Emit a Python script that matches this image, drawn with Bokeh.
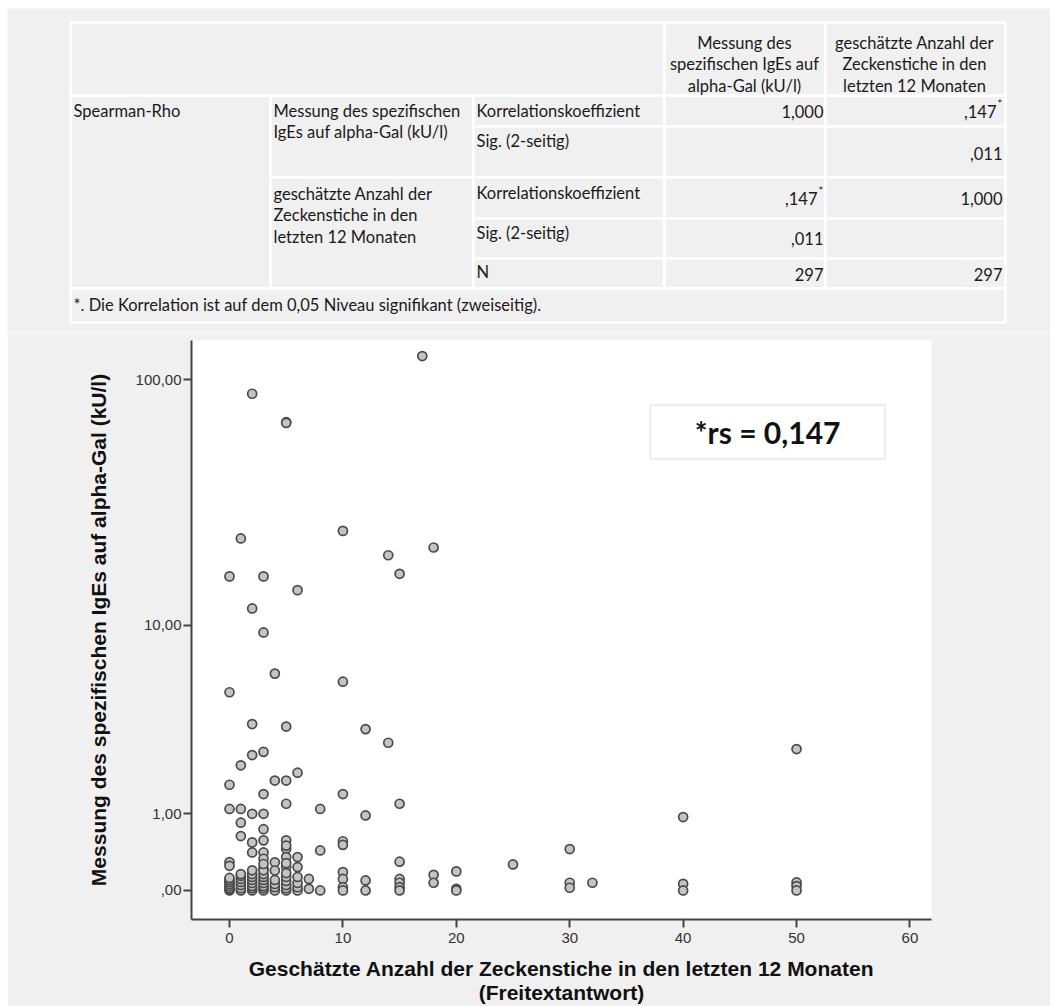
import numpy as np
from bokeh.plotting import figure
from bokeh.models import (Range1d, FixedTicker, CustomJSTickFormatter, BoxAnnotation,
                          Label, Spacer, ColumnDataSource)
from bokeh.layouts import column, row
from bokeh.core.properties import value
from bokeh.embed import file_html
from bokeh.resources import INLINE

# ---------------- data ----------------
# estimated number of tick bites (x) and alpha-Gal sIgE in kU/l (y)
stiche = [
    17, 2, 5, 5, 10, 1, 18, 14, 0, 3, 15, 6, 2, 3,
    4, 0, 10, 2, 5, 12, 14, 2, 3, 1, 0, 4, 5, 6, 3, 10, 5, 15, 0, 1, 8, 2, 3, 12,
    1, 3, 1, 2, 2, 3, 5, 5, 3, 3, 6, 5, 8, 10, 10, 0, 0, 4, 3, 4, 5, 6, 15, 10,
    20, 18, 18, 12, 12, 15, 15, 15, 15, 20, 20, 10, 10, 10, 8, 7, 7,
    25, 30, 30, 30, 32, 40, 40, 40, 50, 50, 50, 50,
    0, 0, 0, 0, 0, 0, 0, 0,
    1, 1, 1, 1, 1, 1, 1,
    2, 2, 2, 2, 2, 2, 2, 2,
    3, 3, 3, 3, 3, 3, 3, 3, 3,
    4, 4, 4, 4,
    5, 5, 5, 5, 5, 5, 5, 5,
    6, 6, 6, 6,
]
ige = [
    124.3, 88.1, 67.9, 67.5, 24.8, 23.1, 21.2, 19.7, 16.1, 16.1, 16.5, 14.1, 11.8, 9.3,
    6.1, 5.0, 5.6, 3.5, 3.4, 3.3, 2.8, 2.4, 2.5, 2.1, 1.6, 1.7, 1.7, 1.9, 1.39, 1.39, 1.19, 1.19, 1.09, 1.09, 1.09, 1.0, 1.0, 0.97,
    0.845, 0.74, 0.635, 0.544, 0.41, 0.573, 0.573, 0.459, 0.41, 0.332, 0.352, 0.352, 0.436, 0.56, 0.51, 0.292, 0.25, 0.29, 0.217, 0.198, 0.235, 0.235, 0.297, 0.18,
    0.188, 0.152, 0.072, 0.095, 0.0, 0.11, 0.072, 0.03, 0.0, 0.015, 0.0, 0.11, 0.03, 0.0, 0.0, 0.11, 0.015,
    0.265, 0.454, 0.072, 0.025, 0.072, 0.942, 0.062, 0.0, 2.59, 0.075, 0.04, 0.0,
    0.0, 0.01, 0.02, 0.04, 0.06, 0.08, 0.10, 0.12,
    0.0, 0.02, 0.05, 0.08, 0.11, 0.14, 0.16,
    0.0, 0.02, 0.04, 0.07, 0.10, 0.13, 0.16, 0.20,
    0.0, 0.02, 0.04, 0.07, 0.10, 0.13, 0.16, 0.20, 0.27,
    0.0, 0.03, 0.06, 0.10,
    0.0, 0.02, 0.05, 0.09, 0.13, 0.17, 0.28, 0.50,
    0.0, 0.03, 0.07, 0.13,
]
x_ticks = [0, 10, 20, 30, 40, 50, 60]
y_ticks = [0, 1, 10, 100]
rs_text = "*rs = 0,147"

# table content
head_col4 = "Messung des\nspezifischen IgEs auf\nalpha-Gal (kU/l)"
head_col5 = "geschätzte Anzahl der\nZeckenstiche in den\nletzten 12 Monaten"
group_label = "Spearman-Rho"
var1_label = "Messung des spezifischen\nIgEs auf alpha-Gal (kU/l)"
var2_label = "geschätzte Anzahl der\nZeckenstiche in den\nletzten 12 Monaten"
stat_labels = ["Korrelationskoeffizient", "Sig. (2-seitig)", "Korrelationskoeffizient", "Sig. (2-seitig)", "N"]
col4_vals = ["1,000", "", ",147", ",011", "297"]
col5_vals = [",147", ",011", "1,000", "", "297"]
col4_star = [False, False, True, False, False]
col5_star = [True, False, False, False, False]
footnote = "*. Die Korrelation ist auf dem  0,05 Niveau signifikant (zweiseitig)."

BG = "#f0f0f0"
TXT = "#1a1a1a"
TFONT = value("Lato")

# ---------------- table figure ----------------
W = 1043
TH = 324
t = figure(width=W, height=TH, x_range=Range1d(7, 7 + W), y_range=Range1d(8 + TH, 8),
           output_backend="svg", toolbar_location=None, min_border=0)
t.axis.visible = False
t.grid.visible = False
t.outline_line_color = None
t.background_fill_color = BG
t.border_fill_color = BG

cols = [70, 270, 473, 664, 825, 1005]
rows_ = [95, 126, 177, 218, 258, 288]
L, R, T, B = [], [], [], []
def cell(l, r, tp, b):
    L.append(l); R.append(r); T.append(tp); B.append(b)
cell(cols[0], cols[3], 22, rows_[0])
cell(cols[3], cols[4], 22, rows_[0])
cell(cols[4], cols[5], 22, rows_[0])
cell(cols[0], cols[1], rows_[0], rows_[5])
cell(cols[1], cols[2], rows_[0], rows_[2])
cell(cols[1], cols[2], rows_[2], rows_[5])
for c in range(2, 5):
    for r_ in range(5):
        cell(cols[c], cols[c + 1], rows_[r_], rows_[r_ + 1])
cell(cols[0], cols[5], rows_[5], 322)
t.quad(left=L, right=R, top=T, bottom=B, fill_color=BG, line_color="white", line_width=2.5)

fs = value("16.5px")
lh = 1.08
# headers
t.text(x=[744, 914], y=[64, 64], text=[head_col4, head_col5], text_font=TFONT, text_font_size=fs,
       text_align="center", text_baseline="middle", text_color=TXT, text_line_height=lh)
# left labels
t.text(x=[73, 273, 273], y=[100, 100, 183], text=[group_label, var1_label, var2_label],
       text_font=TFONT, text_font_size=fs, text_align="left", text_baseline="top",
       text_color=TXT, text_line_height=lh)
lab_y = [110, 140, 192, 232, 271]
t.text(x=[476] * 5, y=lab_y, text=stat_labels, text_font=TFONT, text_font_size=fs,
       text_align="left", text_baseline="middle", text_color=TXT)
val_y = [111, 153, 198, 238, 274]
for xr, vals, stars in [(823, col4_vals, col4_star), (1002, col5_vals, col5_star)]:
    xs = [xr - 6 if s else xr for s in stars]
    t.text(x=xs, y=val_y, text=vals, text_font=TFONT, text_font_size=fs,
           text_align="right", text_baseline="middle", text_color=TXT)
    sx = [xr - 5 for s in stars if s]
    sy = [yy - 8 for yy, s in zip(val_y, stars) if s]
    t.text(x=sx, y=sy, text=["*"] * len(sx), text_font=TFONT, text_font_size=value("11px"),
           text_align="left", text_baseline="middle", text_color=TXT)
t.text(x=[73], y=[304], text=[footnote], text_font=TFONT, text_font_size=fs,
       text_align="left", text_baseline="middle", text_color=TXT)

# ---------------- scatter figure ----------------
PH = 674
yt = np.log10(np.array(ige) + 1.0)
p = figure(width=W, height=PH, x_range=Range1d(-3.35, 61.9), y_range=Range1d(-0.114, 2.159),
           output_backend="svg", toolbar_location=None,
           min_border_left=184, min_border_right=119, min_border_top=8, min_border_bottom=87)
p.background_fill_color = "white"
p.border_fill_color = BG
p.outline_line_color = None
p.grid.visible = False

src = ColumnDataSource(dict(x=stiche, y=yt))
p.scatter("x", "y", source=src, size=9, marker="circle", fill_color="#c4c4c4",
          line_color="#4a4a4a", line_width=1.7)

p.xaxis.ticker = FixedTicker(ticks=x_ticks)
p.yaxis.ticker = FixedTicker(ticks=[float(np.log10(v + 1.0)) for v in y_ticks])
p.yaxis.formatter = CustomJSTickFormatter(code="""
const v = Math.pow(10, tick) - 1;
let s = v.toFixed(2).replace('.', ',');
if (s.startsWith('0')) { s = s.slice(1); }
return s;
""")
for ax in (p.xaxis, p.yaxis):
    ax.axis_line_color = "#454545"
    ax.axis_line_width = 2
    ax.major_tick_line_color = "#454545"
    ax.major_tick_line_width = 2
    ax.major_tick_out = 8
    ax.major_tick_in = 0
    ax.minor_tick_line_color = None
    ax.major_label_text_font = "Liberation Sans"
    ax.major_label_text_font_size = "15px"
    ax.major_label_text_color = "#333333"
    ax.axis_label_text_font = "Liberation Sans"
    ax.axis_label_text_font_style = "bold"
    ax.axis_label_text_font_size = "21px"
    ax.axis_label_text_color = "#111111"
    ax.axis_label_text_line_height = 1.05
p.yaxis.major_label_standoff = 2
p.xaxis.major_label_standoff = 5
p.yaxis.axis_label = "Messung des spezifischen IgEs auf alpha-Gal (kU/l)"
p.xaxis.axis_label = "Geschätzte Anzahl der Zeckenstiche in den letzten 12 Monaten\n(Freitextantwort)"
p.yaxis.axis_label_standoff = 23
p.xaxis.axis_label_standoff = 11

p.add_layout(BoxAnnotation(left=37.1, right=57.8, bottom=1.694, top=1.906,
                           fill_color="white", fill_alpha=1.0,
                           line_color="#c6c6c6", line_width=2.5))
p.add_layout(Label(x=47.45, y=1.80, text=rs_text, text_align="center", text_baseline="middle",
                   text_font="Lato", text_font_style="bold", text_font_size="30px",
                   text_color="#111111"))

top_root = column(Spacer(height=8), row(Spacer(width=7), t))
bottom_root = row(Spacer(width=7), p)
open("out.html", "w").write(file_html([top_root, bottom_root], INLINE))
